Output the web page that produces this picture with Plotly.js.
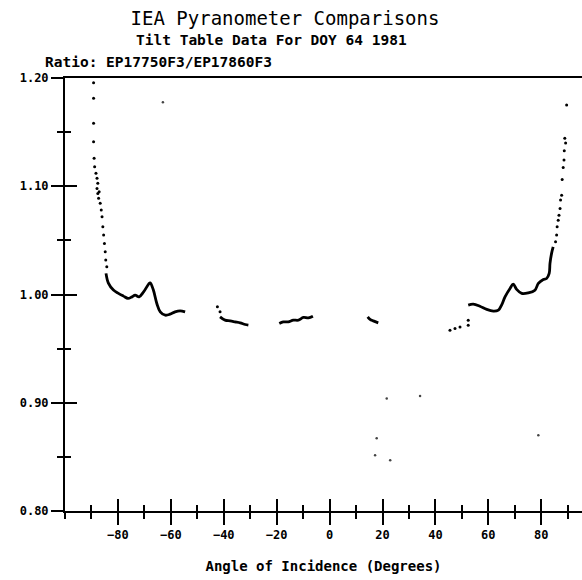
<!DOCTYPE html>
<html>
<head>
<meta charset="utf-8">
<script src="https://cdn.plot.ly/plotly-3.0.1.min.js"></script>
<style>html,body{margin:0;padding:0;background:#fff;}#chart{width:582px;height:580px;}</style>
</head>
<body>
<div id="chart"></div>
<script>
// Sparse dots (steep branches and isolated points)
const dotAngles = [-89.2, -89.2, -89.2, -89.2, -89.0, -88.8, -88.3, -87.9, -87.6, -87.9, -87.6, -87.1, -87.3, -86.7, -86.3, -86.0, -85.7, -85.4, -85.1, -84.8, -84.6, -84.2,
  -42.4, -41.4,
  45.5, 47.4, 49.3, 52.4, 52.4,
  85.4, 85.8, 86.0, 86.4, 86.7, 87.1, 87.3, 87.7, 87.9, 88.3, 88.6, 88.7, 89.2, 88.9, 89.6];
const dotRatios = [1.1957, 1.1812, 1.1581, 1.1411, 1.1258, 1.1180, 1.1119, 1.1073, 1.1027, 1.0980, 1.0934, 1.0950, 1.0888, 1.0842, 1.0780, 1.0719, 1.0625, 1.0549, 1.0472, 1.0395, 1.0318, 1.0256,
  0.9886, 0.9840,
  0.9670, 0.9686, 0.9700, 0.9717, 0.9763,
  1.0487, 1.0549, 1.0625, 1.0687, 1.0733, 1.0795, 1.0872, 1.0918, 1.1063, 1.1174, 1.1242, 1.1328, 1.1400, 1.1443, 1.1750];

// Dense runs of data (null = gap between runs)
const curveAngles = [-84.5, -83.6, -81.7, -79.8, -77.9, -76.2, -74.7, -73.5, -72.0, -70.3, -68.4, -67.8, -66.6, -65.3, -64.0, -62.1, -60.3, -58.4, -56.5, -54.6,
  null,
  -41.4, -39.5, -37.6, -35.7, -33.8, -31.9, -30.7,
  null,
  -19.0, -17.5, -15.6, -13.7, -11.8, -9.9, -8.0, -6.3,
  null,
  14.4, 15.3, 16.5, 18.4,
  null,
  52.4, 54.3, 56.8, 59.4, 61.9, 63.8, 65.0, 66.3, 68.2, 69.4, 70.7, 72.6, 75.1, 77.6, 78.9, 80.8, 82.0, 83.0, 83.3, 83.9, 84.5];
const curveRatios = [1.0195, 1.0105, 1.0041, 1.0010, 0.9985, 0.9964, 0.9978, 0.9994, 0.9978, 1.0024, 1.0096, 1.0108, 1.0041, 0.9917, 0.9840, 0.9809, 0.9818, 0.9840, 0.9849, 0.9840,
  null,
  0.9794, 0.9763, 0.9756, 0.9747, 0.9738, 0.9723, 0.9717,
  null,
  0.9732, 0.9747, 0.9747, 0.9763, 0.9763, 0.9788, 0.9784, 0.9800,
  null,
  0.9794, 0.9770, 0.9756, 0.9738,
  null,
  0.9902, 0.9911, 0.9892, 0.9862, 0.9846, 0.9855, 0.9902, 0.9978, 1.0056, 1.0096, 1.0047, 1.0010, 1.0015, 1.0040, 1.0102, 1.0139, 1.0148, 1.0195, 1.0287, 1.0380, 1.0440];

// Faint stray specks
const strayAngles = [-110.8, -115.7, -116.3, -63.0, 21.6, 34.2, 17.8, 17.2, 22.9, 78.9];
const strayRatios = [0.987, 0.942, 0.933, 1.1775, 0.9039, 0.9063, 0.8672, 0.8515, 0.8469, 0.870];

const yTickVals = [0.8, 0.9, 1.0, 1.1, 1.2];
const yTickText = ['0.80', '0.90', '1.00', '1.10', '1.20'];
const xTickVals = [-80, -60, -40, -20, 0, 20, 40, 60, 80];

const FONT = 'DejaVu Sans Mono, monospace';

const traces = [
  {x: curveAngles, y: curveRatios, type: 'scatter', mode: 'lines', connectgaps: false,
   line: {color: '#000', width: 2.8, shape: 'spline'}, hoverinfo: 'skip', showlegend: false},
  {x: dotAngles, y: dotRatios, type: 'scatter', mode: 'markers',
   marker: {color: '#000', size: 3}, showlegend: false},
  {x: strayAngles, y: strayRatios, type: 'scatter', mode: 'markers', cliponaxis: false,
   marker: {color: '#444', size: 2.5}, showlegend: false},
  {x: [], y: [], xaxis: 'x2', yaxis: 'y2', type: 'scatter', mode: 'markers', showlegend: false}
];

const tickFont = {family: FONT, size: 12, color: '#000', weight: 'bold'};

const layout = {
  width: 582, height: 580,
  margin: {l: 65, r: 0, t: 78, b: 69, pad: 0},
  paper_bgcolor: '#fff', plot_bgcolor: '#fff',
  showlegend: false,
  title: {text: 'IEA Pyranometer Comparisons', font: {family: FONT, size: 19, color: '#000'},
          x: 285/582, xref: 'container', xanchor: 'center', y: 1 - 18/580, yref: 'container', yanchor: 'middle'},
  xaxis: {
    range: [-100, 95.4], showgrid: false, zeroline: false,
    showline: true, linecolor: '#000', linewidth: 2, mirror: true,
    ticks: 'outside', ticklen: 12, tickwidth: 2, tickcolor: '#000',
    tickvals: xTickVals, tickfont: tickFont,
    minor: {dtick: 10, tick0: 0, ticks: 'outside', ticklen: 6, tickwidth: 2, tickcolor: '#000'},
    title: {text: 'Angle of Incidence (Degrees)', font: {family: FONT, size: 14, color: '#000', weight: 'bold'}, standoff: 20}
  },
  yaxis: {
    range: [0.8, 1.2], showgrid: false, zeroline: false,
    showline: true, linecolor: '#000', linewidth: 2,
    ticks: 'outside', ticklen: 12, tickwidth: 2, tickcolor: '#000',
    tickvals: yTickVals, ticktext: yTickText, tickfont: tickFont,
    minor: {dtick: 0.05, tick0: 0.8, ticks: 'outside', ticklen: 6, tickwidth: 2, tickcolor: '#000'}
  },
  xaxis2: {
    overlaying: 'x', matches: 'x', anchor: 'y2', side: 'bottom', showgrid: false, zeroline: false,
    showline: false, showticklabels: false,
    ticks: 'inside', ticklen: 12, tickwidth: 2, tickcolor: '#000', tickvals: xTickVals,
    minor: {dtick: 10, tick0: 0, ticks: 'inside', ticklen: 6, tickwidth: 2, tickcolor: '#000'}
  },
  yaxis2: {
    overlaying: 'y', matches: 'y', anchor: 'x2', side: 'left', showgrid: false, zeroline: false,
    showline: false, showticklabels: false,
    ticks: 'inside', ticklen: 12, tickwidth: 2, tickcolor: '#000', tickvals: yTickVals,
    minor: {dtick: 0.05, tick0: 0.8, ticks: 'inside', ticklen: 6, tickwidth: 2, tickcolor: '#000'}
  },
  annotations: [
    {text: 'Tilt Table Data For DOY 64 1981', xref: 'paper', yref: 'paper', x: (271-65)/517, y: 1 + (78-40)/433,
     xanchor: 'center', yanchor: 'middle', showarrow: false, font: {family: FONT, size: 14.5, color: '#000', weight: 'bold'}},
    {text: 'Ratio: EP17750F3/EP17860F3', xref: 'paper', yref: 'paper', x: (43-65)/517, y: 1 + (78-62)/433,
     xanchor: 'left', yanchor: 'middle', showarrow: false, font: {family: FONT, size: 14.5, color: '#000', weight: 'bold'}}
  ]
};

Plotly.newPlot('chart', traces, layout, {displayModeBar: false, staticPlot: true});
</script>
</body>
</html>
